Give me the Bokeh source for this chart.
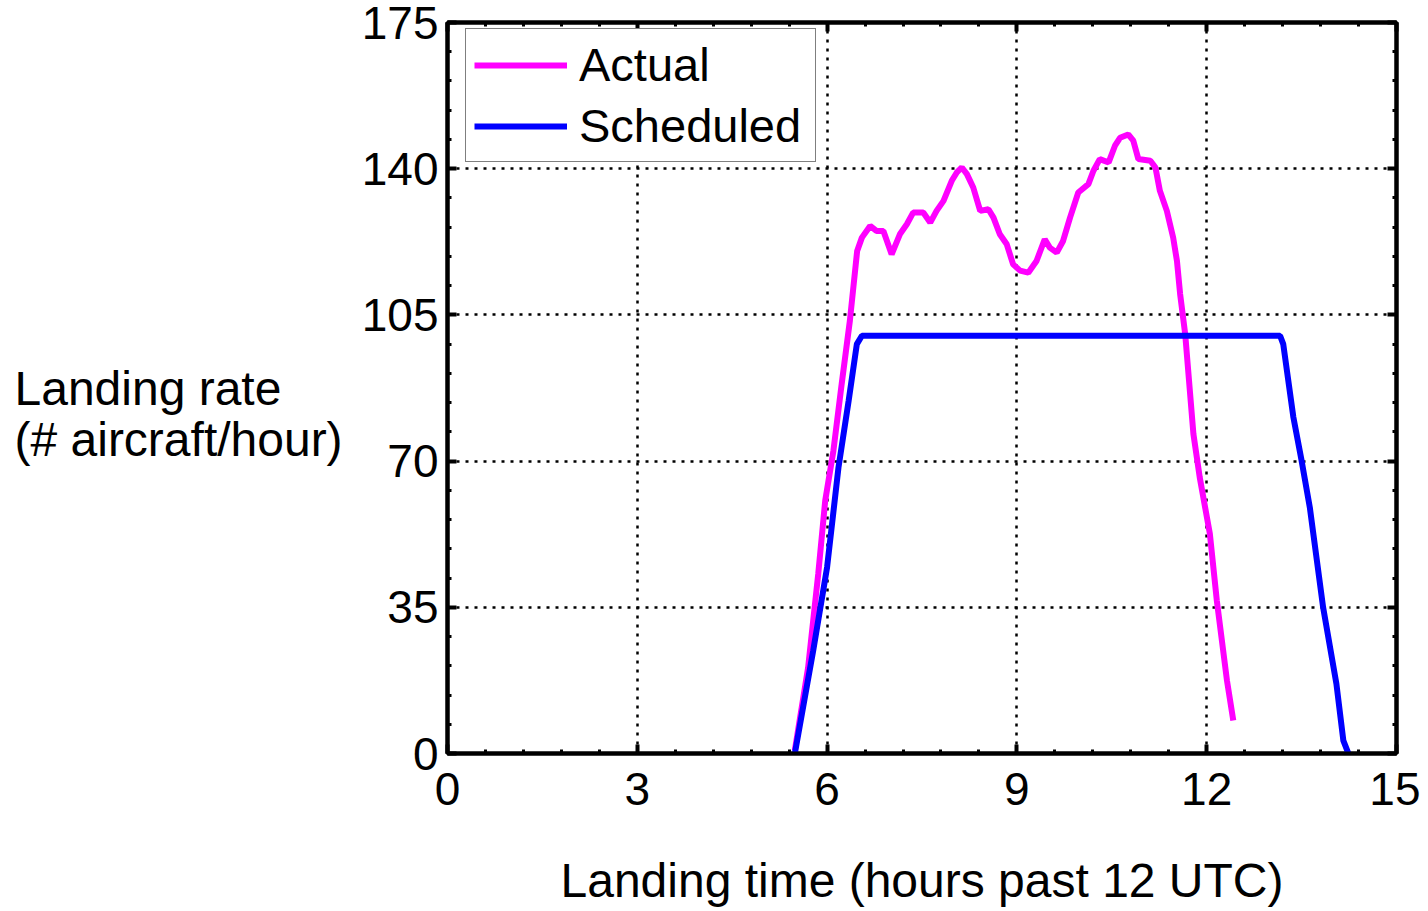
from bokeh.plotting import figure
from bokeh.models import Range1d, LinearAxis, Legend, LegendItem, FixedTicker, CustomJSTickFormatter
from bokeh.layouts import row
from bokeh.core.properties import value
from bokeh.embed import file_html
from bokeh.resources import INLINE

# ---- data ----
actual_t = [5.49, 5.70, 5.86, 5.97, 6.10, 6.23, 6.36, 6.475, 6.55, 6.68, 6.78, 6.89, 7.02,
            7.15, 7.26, 7.36, 7.52, 7.63, 7.73, 7.84, 7.97, 8.05, 8.13, 8.21, 8.31, 8.42,
            8.55, 8.63, 8.73, 8.84, 8.94, 9.05, 9.18, 9.31, 9.44, 9.52, 9.63, 9.73, 9.84,
            9.97, 10.13, 10.21, 10.31, 10.45, 10.55, 10.63, 10.76, 10.84, 10.92, 11.11,
            11.19, 11.26, 11.37, 11.47, 11.53, 11.58, 11.66, 11.79, 11.89, 12.05, 12.16,
            12.32, 12.42]
actual_v = [0.7, 20.6, 43.0, 60.5, 72.5, 88.4, 103.6, 120.3, 123.5, 126.3, 125.1, 125.1, 119.5,
            124.3, 126.7, 129.5, 129.5, 127.1, 129.9, 132.3, 137.1, 139.1, 140.3, 138.7, 135.5,
            129.9, 130.3, 128.3, 124.3, 121.9, 117.1, 115.6, 115.1, 117.9, 123.1, 121.1, 119.9,
            122.7, 128.3, 134.3, 136.3, 139.5, 142.3, 141.5, 145.5, 147.4, 148.2, 146.7, 142.3,
            141.9, 140.3, 134.7, 129.9, 123.5, 117.9, 110.0, 100.4, 76.5, 66.1, 52.6, 36.6,
            17.5, 7.9]

sched_t = [5.49, 5.78, 6.00, 6.18, 6.34, 6.47, 6.55, 13.16, 13.21, 13.37, 13.50, 13.63,
           13.84, 14.05, 14.16, 14.24]
sched_v = [0.0, 24.6, 44.6, 68.5, 84.4, 98.0, 100.0, 100.0, 98.0, 80.5, 70.1, 58.9,
           35.0, 16.7, 3.1, 0.0]

x_ticks = [0, 3, 6, 9, 12, 15]
y_ticks = [0, 35, 70, 105, 140, 175]
ylabel_lines = ["Landing rate", "(# aircraft/hour)"]
xlabel = "Landing time (hours past 12 UTC)"

FONT = "Liberation Sans"
FS = "46px"
H = 905
LW = 350  # width of the left label panel
TOP = 22
FH = 731
BOT = H - TOP - FH

# ---- left panel holding the horizontal y-axis label ----
left = figure(width=LW, height=H, output_backend="svg", toolbar_location=None,
              x_range=Range1d(0, LW), y_range=Range1d(0, 175),
              x_axis_type=None, y_axis_type=None,
              min_border_left=0, min_border_right=0,
              min_border_top=TOP, min_border_bottom=BOT)
left.frame_height = FH
left.frame_width = LW
left.outline_line_color = None
left.xgrid.visible = False
left.ygrid.visible = False
# baselines in y-data units of the main plot's scale
left.text(x=[14, 14], y=[87.4, 75.2], text=ylabel_lines,
          text_font=value(FONT), text_font_size="48px", text_color="black",
          text_align="left", text_baseline="alphabetic")

# ---- main plot ----
p = figure(width=1420 - LW, height=H, output_backend="svg", toolbar_location=None,
           x_range=Range1d(0, 15), y_range=Range1d(0, 175),
           min_border_left=447 - LW, min_border_right=24, min_border_top=TOP,
           min_border_bottom=BOT)
p.frame_height = FH
p.frame_width = 949
p.background_fill_color = "white"
p.border_fill_color = "white"
p.outline_line_color = "black"
p.outline_line_width = 4

l1 = p.line(actual_t, actual_v, line_color="#FF00FF", line_width=6)
l2 = p.line(sched_t, sched_v, line_color="#0000FF", line_width=6)

xminor = [i * 0.6 for i in range(26)]
yminor = [i * 7 for i in range(26)]

def style_axis(ax, major, minor, labels=True):
    ax.ticker = FixedTicker(ticks=major, minor_ticks=minor)
    ax.axis_line_width = 4
    ax.axis_line_color = "black"
    ax.major_tick_in = 9
    ax.major_tick_out = 0
    ax.major_tick_line_width = 4
    ax.major_tick_line_color = "black"
    ax.minor_tick_in = 4
    ax.minor_tick_out = 0
    ax.minor_tick_line_width = 3
    ax.minor_tick_line_color = "black"
    ax.major_label_text_font = FONT
    ax.major_label_text_color = "black"
    if labels:
        ax.major_label_text_font_size = FS
    else:
        ax.formatter = CustomJSTickFormatter(code="return ''")
        ax.major_label_text_font_size = "1px"
        ax.major_label_standoff = 0

xa = p.xaxis[0]
ya = p.yaxis[0]
style_axis(xa, x_ticks, xminor)
style_axis(ya, y_ticks, yminor)
xa.major_label_standoff = 19
ya.major_label_standoff = 9
xa.axis_label = xlabel
xa.axis_label_text_font = FONT
xa.axis_label_text_font_size = "48px"
xa.axis_label_text_font_style = "normal"
xa.axis_label_text_color = "black"
xa.axis_label_standoff = 46

ra = LinearAxis()
ta = LinearAxis()
style_axis(ra, y_ticks, yminor, labels=False)
style_axis(ta, x_ticks, xminor, labels=False)
p.add_layout(ra, "right")
p.add_layout(ta, "above")

p.xgrid.ticker = FixedTicker(ticks=x_ticks)
p.ygrid.ticker = FixedTicker(ticks=y_ticks)
for g in (p.xgrid, p.ygrid):
    g.grid_line_color = "black"
    g.grid_line_width = 2.5
    g.grid_line_dash = "3 6"

legend = Legend(items=[LegendItem(label="Actual", renderers=[l1]),
                       LegendItem(label="Scheduled", renderers=[l2])],
                location=(18, 591))
legend.margin = 0
legend.padding = 8
legend.spacing = 6
legend.glyph_width = 93
legend.glyph_height = 44
legend.label_height = 44
legend.label_width = 228
legend.label_standoff = 12
legend.label_text_font = FONT
legend.label_text_font_size = "47px"
legend.label_text_color = "black"
legend.border_line_color = "black"
legend.border_line_width = 1.5
legend.background_fill_color = "white"
legend.background_fill_alpha = 1
p.add_layout(legend)

layout = row(left, p, spacing=0)
open("out.html", "w").write(file_html(layout, INLINE))
